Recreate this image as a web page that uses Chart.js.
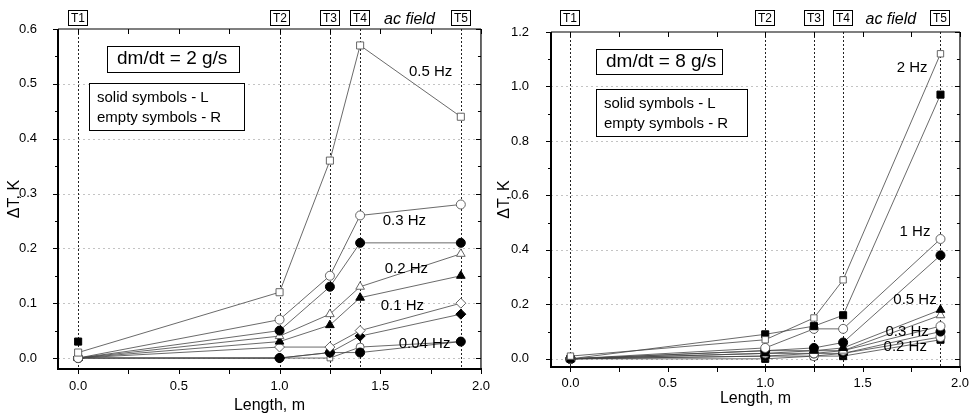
<!DOCTYPE html>
<html lang="en">
<head>
<meta charset="UTF-8">
<title>ΔT along the length</title>
<style>
  body { margin: 0; background: #fff; }
  #wrap { position: relative; width: 978px; height: 419px; }
  canvas { position: absolute; top: 0; }
  #left { left: 0; }
  #right { left: 490px; }
</style>
</head>
<body>
<div id="wrap">
  <canvas id="left" width="500" height="419"></canvas>
  <canvas id="right" width="488" height="419"></canvas>
</div>
<script src="https://cdn.jsdelivr.net/npm/chart.js"></script>
<script>
// sensor positions along the pipe (m)
const lengths = [0, 1.0, 1.25, 1.4, 1.9];
const sensorNames = ['T1', 'T2', 'T3', 'T4', 'T5'];
const xTicks = [0, 0.5, 1.0, 1.5, 2.0];
const leftYTicks = [0, 0.1, 0.2, 0.3, 0.4, 0.5, 0.6];
const rightYTicks = [0, 0.2, 0.4, 0.6, 0.8, 1.0, 1.2];

// dm/dt = 2 g/s  (L = solid, R = empty)
const left05R = [0.01, 0.12, 0.36, 0.57, 0.44];
const left05L = [0.03, null, null, null, null];
const left03R = [0.0, 0.07, 0.15, 0.26, 0.28];
const left03L = [0.0, 0.05, 0.13, 0.21, 0.21];
const left02R = [0.0, 0.04, 0.08, 0.13, 0.19];
const left02L = [0.0, 0.03, 0.06, 0.11, 0.15];
const left01R = [0.0, 0.02, 0.02, 0.05, 0.10];
const left01L = [0.0, 0.0, 0.01, 0.04, 0.08];
const left004R = [0.0, 0.0, 0.0, 0.02, 0.03];
const left004L = [0.0, 0.0, 0.01, 0.01, 0.03];

// dm/dt = 8 g/s
const right2R = [0.01, 0.07, 0.15, 0.29, 1.12];
const right2L = [0.0, 0.09, 0.12, 0.16, 0.97];
const right1R = [0.0, 0.04, 0.11, 0.11, 0.44];
const right1L = [0.0, 0.03, 0.04, 0.06, 0.38];
const right05L = [0.0, 0.02, 0.03, 0.04, 0.18];
const right05R = [0.0, 0.03, 0.03, 0.03, 0.16];
const right03R = [0.0, 0.02, 0.02, 0.03, 0.12];
const right03L = [0.0, 0.01, 0.02, 0.02, 0.10];
const right02R = [0.0, 0.01, 0.01, 0.02, 0.08];
const right02L = [0.0, 0.0, 0.01, 0.01, 0.07];

const FONT = "'Liberation Sans', Arial, sans-serif";

const series = (vals, style, filled, radius = 4.5) => ({
  data: lengths.map((x, i) => ({ x, y: vals[i] })).filter(p => p.y !== null),
  showLine: true,
  borderColor: '#444',
  borderWidth: 0.8,
  pointStyle: style,
  pointRadius: radius,
  pointBorderColor: filled ? '#000' : '#555',
  pointBackgroundColor: filled ? '#000' : '#fff',
  pointBorderWidth: filled ? 1 : 0.9
});

const line = (ctx, x1, y1, x2, y2) => {
  ctx.beginPath();
  ctx.moveTo(x1, y1);
  ctx.lineTo(x2, y2);
  ctx.stroke();
};

const midpoints = (arr) => arr.slice(1).map((v, i) => (v + arr[i]) / 2);

const decor = {
  id: 'decor',
  beforeDatasetsDraw(chart, args, o) {
    const { ctx, chartArea: a, scales: { x, y } } = chart;
    ctx.save();
    // faint horizontal grid
    ctx.lineWidth = 1;
    ctx.strokeStyle = '#c4c4c4';
    ctx.setLineDash([2, 3]);
    o.yTicks.slice(0, -1).forEach(v => {
      const py = Math.round(y.getPixelForValue(v)) + 0.5;
      line(ctx, a.left, py, a.right, py);
    });
    // sensor positions
    ctx.strokeStyle = '#222';
    ctx.setLineDash([2, 2]);
    lengths.forEach(v => {
      const px = Math.round(x.getPixelForValue(v)) + 0.5;
      line(ctx, px, a.top, px, a.bottom);
    });
    ctx.restore();
  },
  afterDatasetsDraw(chart, args, o) {
    const { ctx, chartArea: a, scales: { x, y } } = chart;
    ctx.save();
    ctx.strokeStyle = '#000';
    ctx.fillStyle = '#000';

    // frame
    ctx.lineWidth = 2;
    line(ctx, a.left, a.bottom, a.right + 1, a.bottom);
    line(ctx, a.left, a.top, a.left, a.bottom + 1);
    ctx.lineWidth = 1.2;
    line(ctx, a.left, a.top, a.right, a.top);
    line(ctx, a.right, a.top, a.right, a.bottom);

    // ticks: left/bottom outward, top/right inward
    ctx.lineWidth = 1;
    const yMinor = midpoints(o.yTicks);
    const xMinor = midpoints(xTicks);
    const yTick = (v, len) => {
      const py = Math.round(y.getPixelForValue(v)) + 0.5;
      line(ctx, a.left - len, py, a.left, py);
      line(ctx, a.right - len, py, a.right, py);
    };
    const xTick = (v, len) => {
      const px = Math.round(x.getPixelForValue(v)) + 0.5;
      line(ctx, px, a.bottom, px, a.bottom + len);
      line(ctx, px, a.top, px, a.top + len);
    };
    o.yTicks.forEach(v => yTick(v, 5));
    yMinor.forEach(v => yTick(v, 3));
    xTicks.forEach(v => xTick(v, 5));
    xMinor.forEach(v => xTick(v, 5));

    // sensor labels above the plot
    ctx.font = `12px ${FONT}`;
    ctx.textAlign = 'center';
    ctx.textBaseline = 'middle';
    lengths.forEach((v, i) => {
      const px = Math.round(x.getPixelForValue(v));
      ctx.strokeRect(px - 9.5, 10.5, 19, 15);
      ctx.fillText(sensorNames[i], px, 18.5);
    });
    ctx.font = `italic 16px ${FONT}`;
    ctx.fillText('ac field', x.getPixelForValue(1.645), 20);

    // frequency labels
    ctx.font = `15px ${FONT}`;
    o.labels.forEach(l => ctx.fillText(l.text, x.getPixelForValue(l.x), y.getPixelForValue(l.y)));

    // text boxes
    ctx.lineWidth = 1;
    ctx.textAlign = 'left';
    o.boxes.forEach(b => {
      ctx.fillStyle = '#fff';
      ctx.fillRect(b.x, b.y, b.w, b.h);
      ctx.strokeRect(b.x + 0.5, b.y + 0.5, b.w, b.h);
      ctx.fillStyle = '#000';
      ctx.font = `${b.size}px ${FONT}`;
      b.lines.forEach((t, i) => ctx.fillText(t, b.x + b.pad, b.y + b.first + i * b.step));
    });
    ctx.restore();
  }
};

function makeChart(id, datasets, opts) {
  return new Chart(document.getElementById(id), {
    type: 'scatter',
    data: { datasets },
    plugins: [decor],
    options: {
      responsive: false,
      animation: false,
      events: [],
      layout: { padding: opts.padding },
      plugins: {
        legend: { display: false },
        tooltip: { enabled: false },
        decor: { yTicks: opts.yTicks, labels: opts.labels, boxes: opts.boxes }
      },
      scales: {
        x: {
          type: 'linear',
          min: -0.1,
          max: 2.0,
          afterBuildTicks: s => { s.ticks = xTicks.map(value => ({ value })); },
          afterFit: s => { s.height = opts.xHeight; },
          grid: { display: false, drawTicks: false },
          border: { display: false },
          ticks: { padding: opts.xPad, color: '#000', font: { family: FONT, size: 13 }, callback: v => v.toFixed(1) },
          title: { display: true, text: 'Length, m', color: '#000', font: { family: FONT, size: 16 }, padding: { top: 0, bottom: opts.titlePad } }
        },
        y: {
          type: 'linear',
          min: opts.yMin,
          max: opts.yTicks[opts.yTicks.length - 1],
          afterBuildTicks: s => { s.ticks = opts.yTicks.map(value => ({ value })); },
          afterFit: s => { s.width = opts.yWidth; },
          grid: { display: false, drawTicks: false },
          border: { display: false },
          ticks: { padding: opts.yPad, color: '#000', font: { family: FONT, size: 13 }, callback: v => v.toFixed(1) },
          title: { display: true, text: 'ΔT, K', color: '#000', font: { family: FONT, size: 16 }, padding: { top: 5, bottom: 0 } }
        }
      }
    }
  });
}

makeChart('left', [
  series(left05R, 'rect', false, 5),
  series(left05L, 'rect', true, 5),
  series(left03R, 'circle', false),
  series(left03L, 'circle', true),
  series(left02R, 'triangle', false, 5),
  series(left02L, 'triangle', true, 5),
  series(left01R, 'rectRot', false, 5),
  series(left01L, 'rectRot', true, 5),
  series(left004L, 'circle', true),
  Object.assign(series(left004R, 'circle', false, 4), { pointStyle: ['circle', 'circle', 'rect', 'circle', 'circle'] })
], {
  padding: { left: 0, top: 29, right: 12, bottom: 0 },
  xHeight: 50, yWidth: 58, xPad: 10, yPad: 21, titlePad: 4,
  yMin: -0.02, yTicks: leftYTicks,
  labels: [
    { text: '0.5 Hz', x: 1.75, y: 0.521 },
    { text: '0.3 Hz', x: 1.62, y: 0.250 },
    { text: '0.2 Hz', x: 1.63, y: 0.163 },
    { text: '0.1 Hz', x: 1.61, y: 0.095 },
    { text: '0.04 Hz', x: 1.72, y: 0.026 }
  ],
  boxes: [
    { x: 107, y: 46, w: 132, h: 26, size: 19, pad: 10, first: 13, step: 0, lines: ['dm/dt = 2 g/s'] },
    { x: 89, y: 83, w: 155, h: 47, size: 15, pad: 8, first: 15, step: 20, lines: ['solid symbols - L', 'empty symbols - R'] }
  ]
});

makeChart('right', [
  series(right2R, 'rect', false, 4.5),
  series(right2L, 'rect', true, 5),
  series(right1R, 'circle', false),
  series(right1L, 'circle', true),
  series(right05L, 'triangle', true, 5),
  series(right05R, 'triangle', false, 5),
  series(right03R, 'circle', false),
  series(right03L, 'circle', true),
  series(right02R, 'circle', false),
  series(right02L, 'rect', true, 5)
], {
  padding: { left: 0, top: 32, right: 10, bottom: 10 },
  xHeight: 42, yWidth: 61, xPad: 9, yPad: 22, titlePad: 1,
  yMin: -0.03, yTicks: rightYTicks,
  labels: [
    { text: '2 Hz', x: 1.754, y: 1.068 },
    { text: '1 Hz', x: 1.769, y: 0.466 },
    { text: '0.5 Hz', x: 1.769, y: 0.217 },
    { text: '0.3 Hz', x: 1.729, y: 0.099 },
    { text: '0.2 Hz', x: 1.719, y: 0.044 }
  ],
  boxes: [
    { x: 106, y: 49, w: 126, h: 25, size: 19, pad: 10, first: 13, step: 0, lines: ['dm/dt = 8 g/s'] },
    { x: 106, y: 89, w: 151, h: 47, size: 15, pad: 8, first: 15, step: 20, lines: ['solid symbols - L', 'empty symbols - R'] }
  ]
});
</script>
</body>
</html>
